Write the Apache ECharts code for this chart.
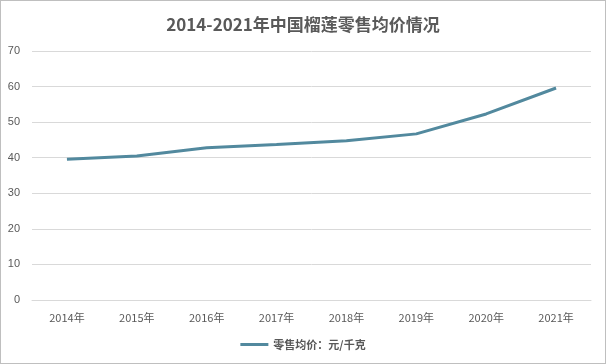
<!DOCTYPE html>
<html><head><meta charset="utf-8">
<script src="https://cdn.jsdelivr.net/npm/echarts@6/dist/echarts.min.js"></script>
<style>html,body{margin:0;padding:0;background:#fff;}#c{width:606px;height:364px;box-sizing:border-box;border:1px solid #bfbfbf;}</style>
</head><body><div id="c"></div>
<script>
var categories = ['2014年','2015年','2016年','2017年','2018年','2019年','2020年','2021年'];
var prices = [39.6, 40.5, 42.8, 43.7, 44.8, 46.7, 52.3, 59.6];
var yTicks = [0, 10, 20, 30, 40, 50, 60, 70];
var seriesName = '零售均价：元/千克';
var chart = echarts.init(document.getElementById('c'));
chart.setOption({
  animation: false,
  title: {text: '2014-2021年中国榴莲零售均价情况', left: 'center', top: 10,
    textStyle: {color: '#595959', fontSize: 17, fontWeight: 'bold', fontFamily: '"Noto Sans CJK SC", sans-serif'}},
  legend: {bottom: 8, left: 'center', itemWidth: 28, itemHeight: 3, icon: 'rect',
    textStyle: {color: '#595959', fontSize: 11, fontWeight: 'bold', fontFamily: '"Noto Sans CJK SC", sans-serif'},
    data: [seriesName]},
  grid: {left: 31, right: 14, top: 50, bottom: 63},
  xAxis: {type: 'category', data: categories, boundaryGap: true,
    axisLine: {lineStyle: {color: '#d9d9d9'}}, axisTick: {show: false},
    axisLabel: {color: '#595959', fontSize: 11, margin: 12, fontFamily: '"Noto Sans CJK SC", sans-serif'}},
  yAxis: {type: 'value', min: yTicks[0], max: yTicks[yTicks.length-1], interval: 10,
    axisLine: {show: false}, axisTick: {show: false},
    splitLine: {lineStyle: {color: '#d9d9d9'}},
    axisLabel: {color: '#595959', fontSize: 11, margin: 12, fontFamily: 'Liberation Sans, sans-serif'}},
  series: [{name: seriesName, type: 'line', data: prices, symbol: 'none',
    lineStyle: {color: '#52899E', width: 3}, itemStyle: {color: '#52899E'}}]
});
</script></body></html>
